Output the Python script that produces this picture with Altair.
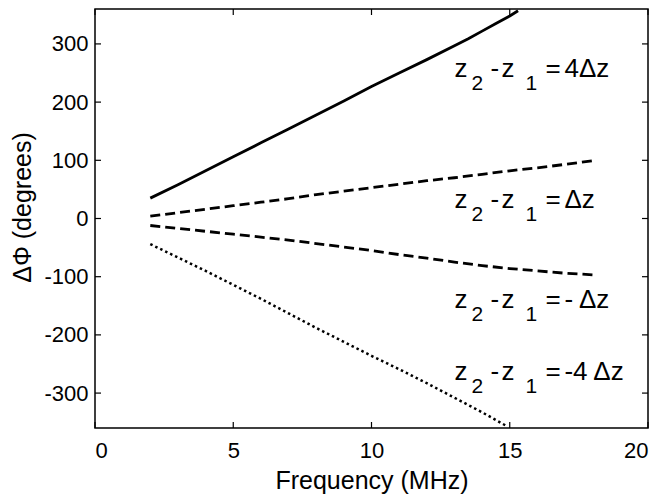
import altair as alt
import pandas as pd

# ---- data ----
freq_4dz = [2, 3, 4, 5, 6, 7, 8, 9, 10, 11, 12, 13, 13.5, 14, 14.5, 15, 15.3]
phase_4dz = [35, 58, 82, 106, 130, 154, 178, 202, 227, 250, 273, 297, 309, 322, 335, 348, 357]

freq_dz = [2, 3, 4, 5, 6, 7, 8, 9, 10, 11, 12, 13, 14, 15, 16, 17, 18.1]
phase_dz = [4, 10, 16, 22, 28, 34, 41, 47, 53, 59, 65, 70, 76, 82, 87, 93, 100]

freq_mdz = [2, 3, 4, 5, 6, 7, 8, 9, 10, 11, 12, 13, 14, 15, 16, 17, 18.1]
phase_mdz = [-12, -17, -22, -27, -32, -37, -43, -49, -55, -62, -68, -75, -81, -86, -90, -94, -97]

freq_m4dz = [2, 3, 4, 5, 6, 7, 8, 9, 10, 11, 12, 13, 14, 14.9]
phase_m4dz = [-44, -67, -90, -114, -138, -163, -188, -212, -236, -259, -283, -308, -333, -357]

x_ticks = [0, 5, 10, 15, 20]
y_ticks = [-300, -200, -100, 0, 100, 200, 300]

label_rest = ["4\u0394z", "\u0394z", "- \u0394z", "-4 \u0394z"]
label_phase = [243, 18, -153, -278]
label_freq = [13.0, 13.0, 13.0, 13.0]

W, H = 553, 419
FONT = "Liberation Sans"

xscale = alt.Scale(domain=[0, 20], nice=False, zero=False)
yscale = alt.Scale(domain=[-360, 360], nice=False, zero=False)

x_axis = alt.Axis(
    values=x_ticks, ticks=False, tickSize=0, domain=False, grid=False,
    labelFont=FONT, labelFontSize=22, labelColor="black", labelPadding=12,
    labelExpr="'' + datum.value",
    title="Frequency (MHz)", titleFont=FONT, titleFontSize=25,
    titleFontWeight="normal", titleColor="black",
    titleBaseline="alphabetic", titleX=W / 2, titleY=60,
)
y_axis = alt.Axis(
    values=y_ticks, ticks=False, tickSize=0, domain=False, grid=False,
    labelFont=FONT, labelFontSize=22, labelColor="black", labelPadding=7,
    labelExpr="'' + datum.value",
    title="\u0394\u03a6 (degrees)", titleFont=FONT, titleFontSize=25,
    titleFontWeight="normal", titleColor="black",
    titleBaseline="alphabetic", titleX=-65, titleY=198, titleAngle=-90,
)

X = alt.X("freq:Q", scale=xscale, axis=x_axis)
Y = alt.Y("phase:Q", scale=yscale, axis=y_axis)


def line(fr, ph, dash, width):
    df = pd.DataFrame({"freq": fr, "phase": ph})
    kw = dict(color="black", strokeWidth=width, clip=True, strokeCap="butt")
    if dash:
        kw["strokeDash"] = dash
    return alt.Chart(df).mark_line(**kw).encode(x=X, y=Y)


lines = [
    line(freq_4dz, phase_4dz, None, 2.8),
    line(freq_dz, phase_dz, [10, 5], 2.8),
    line(freq_mdz, phase_mdz, [10, 5], 2.8),
    line(freq_m4dz, phase_m4dz, [2.5, 3], 2.5),
]

# inward ticks on all four sides
xt = pd.DataFrame({"freq": x_ticks})
yt = pd.DataFrame({"phase": y_ticks})
tick_layers = [
    alt.Chart(xt).mark_rule(color="black", strokeWidth=1.2).encode(
        x=X, y=alt.value(0), y2=alt.value(6)),
    alt.Chart(xt).mark_rule(color="black", strokeWidth=1.2).encode(
        x=X, y=alt.value(H), y2=alt.value(H - 6)),
    alt.Chart(yt).mark_rule(color="black", strokeWidth=1.2).encode(
        y=Y, x=alt.value(0), x2=alt.value(6)),
    alt.Chart(yt).mark_rule(color="black", strokeWidth=1.2).encode(
        y=Y, x=alt.value(W), x2=alt.value(W - 6)),
]

# annotations: z_2 - z_1 = ...
labels = pd.DataFrame({"freq": label_freq, "phase": label_phase, "rest": label_rest})
pieces = [
    ("z", 0, 0, 26),
    ("2", 17, 13, 21),
    ("-", 36, 0, 26),
    ("z", 47, 0, 26),
    ("1", 71, 13, 21),
    ("=", 91, 0, 26),
]
text_layers = []
for txt, dx, dy, fs in pieces:
    text_layers.append(
        alt.Chart(labels).mark_text(
            align="left", baseline="alphabetic", dx=dx, dy=dy,
            font=FONT, fontSize=fs, color="black",
        ).encode(x=X, y=Y, text=alt.value(txt))
    )
text_layers.append(
    alt.Chart(labels).mark_text(
        align="left", baseline="alphabetic", dx=110, dy=0,
        font=FONT, fontSize=26, color="black",
    ).encode(x=X, y=Y, text="rest:N")
)

chart = alt.layer(*lines, *tick_layers, *text_layers).properties(
    width=W, height=H,
    autosize=alt.AutoSizeParams(type="none"),
    padding={"left": 87, "top": 1, "right": 6, "bottom": 66},
    background="white",
).configure_view(stroke="black", strokeWidth=1.5)

chart.save("out.html", embed_options={"renderer": "svg", "actions": False})
